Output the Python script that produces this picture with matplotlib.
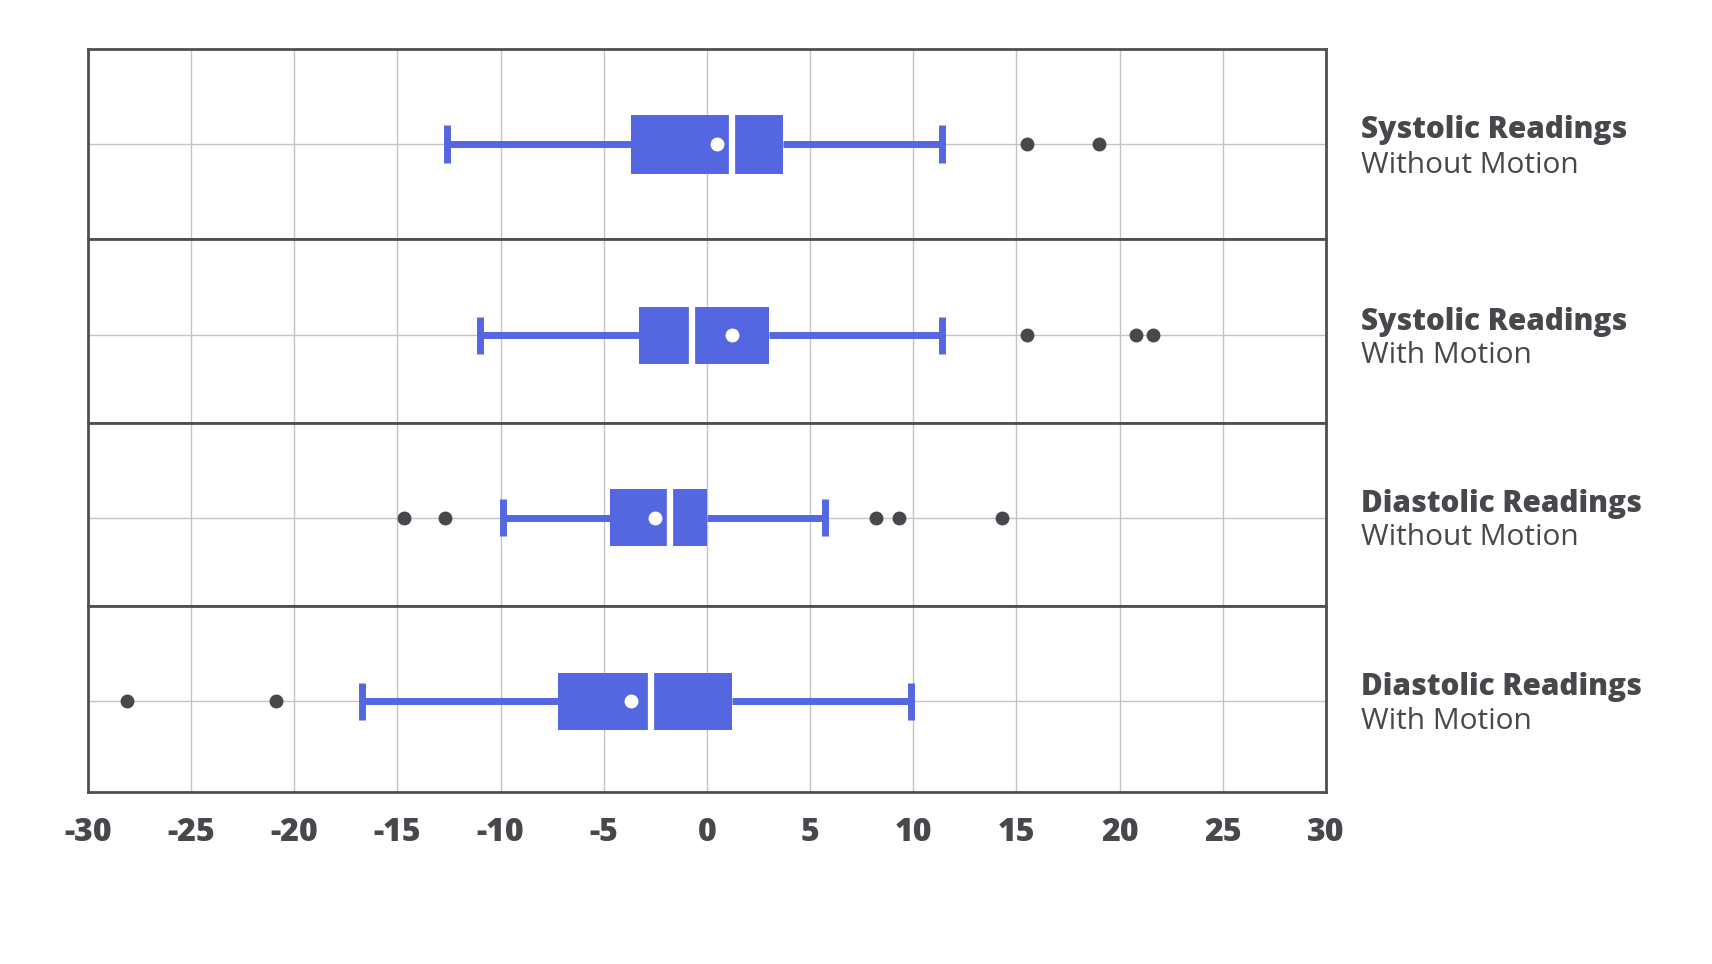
import matplotlib
matplotlib.use("Agg")
import matplotlib.pyplot as plt
import matplotlib.transforms as mtransforms

# Panels from top to bottom
titles = ["Systolic Readings", "Systolic Readings", "Diastolic Readings", "Diastolic Readings"]
subtitles = ["Without Motion", "With Motion", "Without Motion", "With Motion"]

whisker_lo = [-12.6, -11.0, -9.9, -16.7]
q1 = [-3.7, -3.3, -4.7, -7.2]
medians = [1.2, -0.7, -1.8, -2.7]
q3 = [3.7, 3.0, 0.0, 1.2]
whisker_hi = [11.4, 11.4, 5.7, 9.9]
means = [0.5, 1.2, -2.5, -3.7]
outliers = [
    [15.5, 19.0],
    [15.5, 20.8, 21.6],
    [-14.7, -12.7, 8.2, 9.3, 14.3],
    [-28.1, -20.9],
]

xticks = list(range(-30, 31, 5))

BLUE = "#5567E0"
DARK = "#47474C"
FRAME = "#4F4F53"

# the boxes sit a little below the middle of the lower panels
row_shift = [0.0, 0.024, 0.018, 0.012]

plt.rcParams["font.family"] = ["Open Sans", "DejaVu Sans"]

fig, axes = plt.subplots(4, 1, figsize=(17.12, 9.64), dpi=100, sharex=True,
                         gridspec_kw={"height_ratios": [174, 168, 168, 170]})
fig.subplots_adjust(left=0.0513, right=0.7745, top=0.949, bottom=0.1785, hspace=0)

for i, ax in enumerate(axes):
    stats = [{
        "whislo": whisker_lo[i], "q1": q1[i], "med": medians[i], "q3": q3[i],
        "whishi": whisker_hi[i], "mean": means[i], "fliers": outliers[i],
    }]
    ax.bxp(stats, positions=[1], vert=False, widths=0.31, capwidths=0.2,
           patch_artist=True, showmeans=True, showfliers=True,
           boxprops=dict(facecolor=BLUE, edgecolor=BLUE, linewidth=0),
           whiskerprops=dict(color=BLUE, linewidth=5, solid_capstyle="butt"),
           capprops=dict(color=BLUE, linewidth=5, solid_capstyle="butt"),
           medianprops=dict(color="white", linewidth=4.5, solid_capstyle="butt"),
           meanprops=dict(marker="o", markerfacecolor="white", markeredgecolor="white", markersize=9),
           flierprops=dict(marker="o", markerfacecolor=DARK, markeredgecolor=DARK, markersize=9))
    ax.set_ylim(1.5 - row_shift[i], 0.5 - row_shift[i])
    ax.set_xlim(-30, 30)
    ax.set_xticks(xticks)
    ax.set_yticks([1])
    ax.set_yticklabels([])
    ax.tick_params(axis="y", length=0)
    ax.tick_params(axis="x", length=0)
    ax.grid(True, color="#C4C4C4", linewidth=1)
    ax.set_axisbelow(True)
    for sp in ax.spines.values():
        sp.set_color(FRAME)
        sp.set_linewidth(2)
    trans = mtransforms.blended_transform_factory(ax.transAxes, ax.transData)
    ax.text(1.028, 1 - 0.075, titles[i], transform=trans, fontsize=21.4,
            fontweight=800, color=DARK, va="center", ha="left")
    ax.text(1.028, 1 + 0.11, subtitles[i], transform=trans, fontsize=21.5,
            color=DARK, va="center", ha="left")

axes[-1].set_xticklabels([str(t) for t in xticks], fontsize=23, fontweight=800, color=DARK)
axes[-1].tick_params(axis="x", pad=18)

fig.savefig("out.png", dpi=100, facecolor="white")
